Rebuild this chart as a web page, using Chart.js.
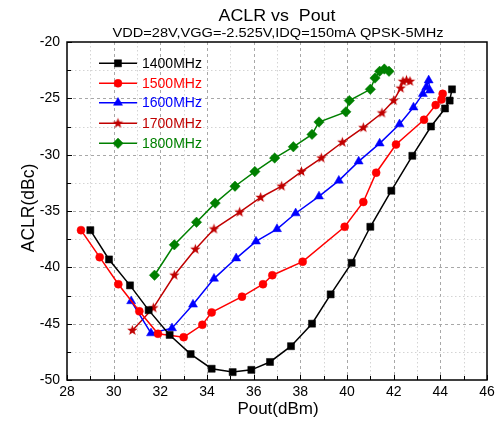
<!DOCTYPE html>
<html><head><meta charset="utf-8">
<script src="https://cdn.jsdelivr.net/npm/chart.js@4/dist/chart.umd.min.js"></script>
<style>html,body{margin:0;padding:0;background:#fff}#wrap{width:500px;height:424px}</style>
</head><body><div id="wrap"><canvas id="c" width="500" height="424"></canvas></div>
<script>
const titleText = 'ACLR vs  Pout';
const subtitleText = 'VDD=28V,VGG=-2.525V,IDQ=150mA QPSK-5MHz';
const xAxisTitle = 'Pout(dBm)';
const yAxisTitle = 'ACLR(dBc)';
const seriesNames = ['1400MHz','1500MHz','1600MHz','1700MHz','1800MHz'];

const pout1400 = [29.0,29.8,30.7,31.5,32.4,33.3,34.2,35.1,35.9,36.7,37.6,38.5,39.3,40.2,41.0,41.9,42.8,43.6,44.2,44.4,44.5];
const aclr1400 = [-36.7,-39.3,-41.6,-43.8,-46.0,-47.7,-49.0,-49.3,-49.1,-48.4,-47.0,-45.0,-42.4,-39.6,-36.4,-33.2,-30.1,-27.5,-25.9,-25.2,-24.2];

const pout1500 = [28.6,29.4,30.2,31.1,31.9,33.0,33.8,34.2,35.5,36.4,36.8,38.1,39.9,40.7,41.25,42.1,43.3,43.8,44.05,44.1];
const aclr1500 = [-36.7,-39.1,-41.5,-43.9,-45.9,-46.2,-45.1,-44.0,-42.6,-41.5,-40.7,-39.5,-36.4,-34.2,-31.6,-29.1,-26.9,-25.6,-25.1,-24.6];

const pout1600 = [30.75,31.6,32.5,33.4,34.3,35.25,36.1,37.0,37.8,38.8,39.65,40.5,41.4,42.25,42.85,43.25,43.4,43.5,43.55];
const aclr1600 = [-43.0,-45.85,-45.4,-43.3,-41.0,-39.2,-37.7,-36.6,-35.2,-33.7,-32.3,-30.6,-29.0,-27.3,-25.8,-24.6,-24.0,-23.4,-24.3];

const pout1700 = [30.8,31.7,32.6,33.5,34.3,35.4,36.3,37.2,38.05,38.9,39.8,40.7,41.5,42.0,42.3,42.4,42.55,42.7];
const aclr1700 = [-45.6,-43.6,-40.7,-38.4,-36.6,-35.1,-33.8,-32.8,-31.5,-30.3,-28.9,-27.6,-26.3,-25.2,-24.1,-23.5,-23.4,-23.5];

const pout1800 = [31.75,32.6,33.55,34.35,35.2,36.05,36.9,37.7,38.5,38.8,39.95,40.1,41.0,41.2,41.4,41.6,41.8];
const aclr1800 = [-40.7,-38.0,-36.0,-34.3,-32.8,-31.5,-30.3,-29.3,-28.2,-27.1,-26.2,-25.2,-24.2,-23.2,-22.6,-22.4,-22.6];

const xTickLabels = [28,30,32,34,36,38,40,42,44,46];
const yTickLabels = [-20,-25,-30,-35,-40,-45,-50];

const FONT = "'Liberation Sans', Arial, Helvetica, sans-serif";
const colors = ['#000000','#FF0000','#0000FF','#C00000','#008000'];

function makeStar(color, R, r){
  const s = Math.ceil(R*2+2);
  const cv = document.createElement('canvas'); cv.width = s; cv.height = s;
  const c = cv.getContext('2d');
  c.fillStyle = color; c.beginPath();
  for (let i=0;i<10;i++){
    const a = -Math.PI/2 + i*Math.PI/5;
    const rr = i%2===0 ? R : r;
    const px = s/2 + rr*Math.cos(a), py = s/2 + rr*Math.sin(a);
    i===0 ? c.moveTo(px,py) : c.lineTo(px,py);
  }
  c.closePath(); c.fill();
  return cv;
}
const starImg = makeStar('#C00000', 5.5, 2.3);

const styles = [
  {pointStyle:'rect', radius:5},
  {pointStyle:'circle', radius:4},
  {pointStyle:'triangle', radius:5.2},
  {pointStyle:starImg, radius:5},
  {pointStyle:'rectRot', radius:5.2}
];

const pairs = [[pout1400,aclr1400],[pout1500,aclr1500],[pout1600,aclr1600],[pout1700,aclr1700],[pout1800,aclr1800]];
const datasets = pairs.map((p,i)=>({
  label: seriesNames[i],
  data: p[0].map((x,j)=>({x:x, y:p[1][j]})),
  borderColor: colors[i], backgroundColor: colors[i],
  borderWidth: 1.5, pointStyle: styles[i].pointStyle,
  pointRadius: styles[i].radius, pointHoverRadius: styles[i].radius,
  pointBorderWidth: 0.5, showLine: true, tension: 0, fill:false
}));

const deco = {
  id:'deco',
  beforeDatasetsDraw(chart){
    const ctx = chart.ctx, a = chart.chartArea, xs = chart.scales.x, ys = chart.scales.y;
    ctx.save(); ctx.lineWidth = 1;
    for (let v=29; v<46; v++){
      const major = v%2===0;
      ctx.strokeStyle = major ? '#a8a8a8' : '#d4d4d4';
      ctx.setLineDash(major ? [3,3] : [1.5,2.5]);
      const px = Math.round(xs.getPixelForValue(v))+0.5;
      ctx.beginPath(); ctx.moveTo(px,a.top); ctx.lineTo(px,a.bottom); ctx.stroke();
    }
    for (let v=-47.5; v<-20; v+=2.5){
      const major = Math.abs(v%5)<1e-6;
      ctx.strokeStyle = major ? '#a8a8a8' : '#d4d4d4';
      ctx.setLineDash(major ? [3,3] : [1.5,2.5]);
      const py = Math.round(ys.getPixelForValue(v))+0.5;
      ctx.beginPath(); ctx.moveTo(a.left,py); ctx.lineTo(a.right,py); ctx.stroke();
    }
    ctx.restore();
  },
  afterDraw(chart){
    const ctx = chart.ctx, a = chart.chartArea, xs = chart.scales.x, ys = chart.scales.y;
    ctx.save();
    ctx.strokeStyle = '#000'; ctx.lineWidth = 1.5; ctx.setLineDash([]);
    ctx.strokeRect(a.left, a.top, a.right-a.left, a.bottom-a.top);
    ctx.lineWidth = 1;
    for (let v=28; v<=46; v++){
      const px = Math.round(xs.getPixelForValue(v))+0.5;
      const len = v%2===0 ? 5 : 4;
      ctx.beginPath(); ctx.moveTo(px,a.bottom); ctx.lineTo(px,a.bottom-len); ctx.stroke();
    }
    for (let v=-50; v<=-20; v+=2.5){
      const py = Math.round(ys.getPixelForValue(v))+0.5;
      const len = Math.abs(v%5)<1e-6 ? 5 : 4;
      ctx.beginPath(); ctx.moveTo(a.left,py); ctx.lineTo(a.left+len,py); ctx.stroke();
    }
    ctx.fillStyle = '#000'; ctx.textBaseline = 'alphabetic'; ctx.textAlign = 'center';
    function stretched(text, size, cx, by, targetW){
      ctx.font = size+'px '+FONT;
      const w = ctx.measureText(text).width;
      const sx = targetW ? targetW/w : 1;
      ctx.save(); ctx.translate(cx, by); ctx.scale(sx,1); ctx.fillText(text,0,0); ctx.restore();
    }
    stretched(titleText, 17, 277, 20.5, 117);
    stretched(subtitleText, 12.5, 278, 36.5, 331);
    ctx.font = '17px '+FONT; ctx.textBaseline = 'middle';
    ctx.fillText(xAxisTitle, 278, 409);
    ctx.save(); ctx.translate(29, 208); ctx.rotate(-Math.PI/2); ctx.font = '17.5px '+FONT; ctx.fillText(yAxisTitle,0,0); ctx.restore();
    const rows = [63.3, 83.3, 102.7, 123.3, 143.3];
    ctx.textAlign = 'left'; ctx.font = '14px '+FONT;
    datasets.forEach((d,i)=>{
      const y = rows[i];
      ctx.strokeStyle = colors[i]; ctx.fillStyle = colors[i]; ctx.lineWidth = 1.5;
      ctx.beginPath(); ctx.moveTo(99,y); ctx.lineTo(137,y); ctx.stroke();
      ctx.lineWidth = 0.5;
      Chart.helpers.drawPoint(ctx, {pointStyle: d.pointStyle, radius: d.pointRadius, borderWidth: 0.5, rotation: 0}, 118, y);
      ctx.fillStyle = colors[i];
      ctx.fillText(d.label, 142, y+0.5);
    });
    ctx.restore();
  }
};

Chart.defaults.font.family = FONT;
new Chart(document.getElementById('c'), {
  type: 'scatter',
  data: { datasets },
  options: {
    responsive: false, animation: false, devicePixelRatio: 1,
    layout: { padding: {top:42, right:13, left:0, bottom:0} },
    plugins: { legend:{display:false}, title:{display:false}, tooltip:{enabled:false} },
    scales: {
      x: {
        type:'linear', min:28, max:46, position:'bottom',
        afterFit(s){ s.height = 44; },
        afterBuildTicks(s){ s.ticks = xTickLabels.map(v=>({value:v})); },
        ticks: { font:{size:14}, color:'#000', padding:4, maxRotation:0, autoSkip:false },
        grid: { display:false, drawTicks:false },
        border: { display:false }
      },
      y: {
        type:'linear', min:-50, max:-20,
        afterFit(s){ s.width = 67; },
        afterBuildTicks(s){ s.ticks = yTickLabels.map(v=>({value:v})); },
        ticks: { font:{size:14}, color:'#000', padding:7, autoSkip:false },
        grid: { display:false, drawTicks:false },
        border: { display:false }
      }
    }
  },
  plugins: [deco]
});
</script>
</body></html>
